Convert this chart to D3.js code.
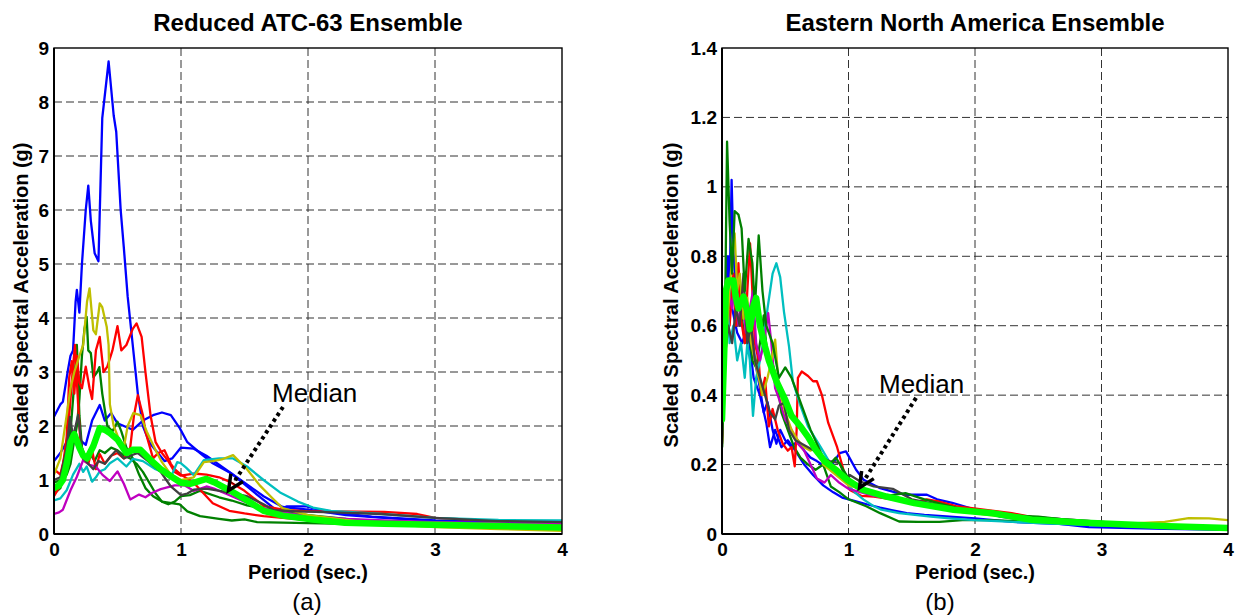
<!DOCTYPE html>
<html><head><meta charset="utf-8">
<script src="https://cdn.jsdelivr.net/npm/d3@7"></script>
<style>
body{margin:0;background:#fff}
svg{display:block}
text{font-family:"Liberation Sans",Arial,Helvetica,sans-serif}
</style>
</head><body>
<svg id="chart" width="1235" height="616"></svg>
<script>
// ---------------- DATA: Reduced ATC-63 ensemble  [period (s), Sa (g)] ----------------
const atcBlueA = [[0,2.17],[0.05,2.4],[0.07,2.45],[0.11,3.04],[0.13,3.3],[0.15,3.4],[0.17,4.3],[0.18,4.52],[0.2,4.1],[0.22,5.0],[0.25,6.0],[0.27,6.45],[0.29,5.8],[0.32,5.2],[0.35,5.05],[0.38,7.7],[0.43,8.75],[0.47,7.75],[0.49,7.45],[0.525,6.0],[0.55,5.3],[0.58,4.4],[0.62,3.5],[0.66,2.6],[0.7,2.0],[0.75,1.7],[0.8,1.55],[0.87,1.35],[0.93,1.4],[1.0,1.6],[1.1,1.58],[1.2,1.45],[1.35,1.2],[1.5,0.95],[1.65,0.7],[1.8,0.5],[2.0,0.45],[2.3,0.35],[2.6,0.3],[3.0,0.24],[3.5,0.21],[4.0,0.19]];
const atcBlueB = [[0,1.35],[0.05,1.5],[0.1,1.7],[0.126,1.93],[0.15,1.85],[0.2,1.75],[0.25,1.65],[0.3,2.1],[0.36,2.39],[0.4,2.1],[0.45,2.24],[0.5,2.05],[0.55,2.0],[0.62,1.93],[0.7,2.1],[0.78,2.2],[0.85,2.25],[0.92,2.2],[0.99,1.96],[1.05,1.7],[1.15,1.5],[1.25,1.31],[1.39,1.13],[1.52,0.88],[1.65,0.63],[1.75,0.44],[1.83,0.51],[1.99,0.51],[2.1,0.44],[2.2,0.4],[2.5,0.32],[3.0,0.25],[3.5,0.22],[4.0,0.2]];
const atcGreenA = [[0,0.95],[0.05,1.0],[0.1,1.1],[0.13,1.3],[0.15,1.6],[0.18,2.0],[0.2,2.5],[0.22,3.3],[0.24,3.8],[0.257,4.02],[0.27,3.4],[0.29,3.35],[0.31,2.9],[0.34,3.0],[0.357,3.09],[0.38,2.6],[0.42,2.0],[0.46,1.9],[0.5,2.08],[0.53,1.9],[0.57,1.6],[0.62,1.4],[0.67,1.1],[0.72,0.85],[0.78,0.7],[0.85,0.6],[0.99,0.55],[1.05,0.42],[1.15,0.33],[1.3,0.28],[1.4,0.25],[1.5,0.27],[1.6,0.22],[1.8,0.21],[2.0,0.2],[2.5,0.18],[3.0,0.16],[3.5,0.13],[4.0,0.12]];
const atcGreenB = [[0,0.75],[0.05,0.85],[0.08,1.1],[0.12,1.6],[0.15,2.5],[0.18,3.5],[0.2,2.2],[0.22,1.6],[0.25,1.4],[0.28,1.5],[0.32,1.35],[0.36,1.55],[0.4,1.5],[0.45,1.6],[0.5,1.55],[0.55,1.45],[0.6,1.4],[0.65,1.3],[0.7,1.15],[0.75,0.95],[0.8,0.75],[0.85,0.6],[0.9,0.55],[0.95,0.6],[1.0,0.7],[1.07,0.72],[1.15,0.8],[1.3,0.68],[1.4,0.62],[1.52,0.53],[1.65,0.47],[1.8,0.42],[2.0,0.35],[2.3,0.28],[2.6,0.22],[3.0,0.18],[3.5,0.15],[4.0,0.13]];
const atcRedA = [[0,0.7],[0.05,0.9],[0.1,1.8],[0.12,2.9],[0.14,3.2],[0.16,2.6],[0.18,3.3],[0.2,2.8],[0.22,2.7],[0.25,3.1],[0.28,2.7],[0.3,2.5],[0.33,3.4],[0.36,3.65],[0.39,3.0],[0.42,3.1],[0.46,3.4],[0.5,3.85],[0.53,3.4],[0.57,3.5],[0.62,3.8],[0.65,3.9],[0.69,3.65],[0.72,3.0],[0.76,2.2],[0.8,1.7],[0.85,1.5],[0.9,1.35],[0.95,1.15],[1.0,1.08],[1.1,1.12],[1.2,1.1],[1.3,1.05],[1.39,0.96],[1.5,0.8],[1.65,0.52],[1.8,0.45],[2.0,0.42],[2.2,0.42],[2.6,0.41],[2.86,0.37],[3.0,0.3],[3.3,0.26],[4.0,0.22]];
const atcRedB = [[0,1.2],[0.05,1.1],[0.1,1.6],[0.13,2.5],[0.15,3.1],[0.165,3.5],[0.19,2.4],[0.21,1.6],[0.23,1.37],[0.27,1.3],[0.3,1.55],[0.33,1.2],[0.36,1.48],[0.4,1.3],[0.45,1.45],[0.5,1.5],[0.55,1.4],[0.6,1.6],[0.63,2.2],[0.66,2.57],[0.7,2.2],[0.72,1.9],[0.78,1.4],[0.82,1.5],[0.87,1.55],[0.92,1.3],[0.95,1.2],[1.0,1.1],[1.1,0.95],[1.25,0.57],[1.38,0.43],[1.5,0.38],[1.65,0.33],[1.8,0.3],[2.0,0.26],[2.3,0.22],[2.6,0.19],[3.0,0.16],[3.5,0.13],[4.0,0.11]];
const atcCyan = [[0,0.62],[0.05,0.66],[0.1,0.81],[0.15,1.1],[0.2,1.3],[0.23,1.15],[0.257,1.25],[0.3,0.97],[0.33,1.05],[0.36,1.16],[0.4,1.2],[0.44,1.31],[0.5,1.4],[0.57,1.25],[0.62,1.39],[0.7,1.35],[0.8,1.2],[0.85,1.15],[0.92,1.05],[0.97,1.33],[1.0,1.31],[1.04,1.23],[1.1,1.09],[1.18,1.37],[1.3,1.4],[1.41,1.4],[1.52,1.25],[1.65,1.0],[1.78,0.77],[1.92,0.6],[2.04,0.49],[2.18,0.43],[2.58,0.37],[3.0,0.3],[3.5,0.26],[4.0,0.25]];
const atcMagenta = [[0,0.37],[0.04,0.4],[0.07,0.45],[0.13,0.81],[0.18,1.06],[0.23,1.37],[0.28,1.28],[0.33,1.25],[0.38,1.1],[0.44,0.98],[0.5,1.16],[0.55,0.93],[0.6,0.64],[0.67,0.73],[0.72,0.68],[0.77,0.76],[0.84,0.83],[0.95,0.9],[1.03,0.9],[1.1,0.8],[1.2,0.88],[1.26,0.84],[1.35,0.75],[1.5,0.6],[1.65,0.48],[1.8,0.4],[2.0,0.33],[2.3,0.28],[2.6,0.25],[3.0,0.22],[3.5,0.2],[4.0,0.19]];
const atcYellow = [[0,1.1],[0.05,1.4],[0.1,2.2],[0.13,2.7],[0.16,3.0],[0.2,3.3],[0.23,3.5],[0.26,4.3],[0.28,4.55],[0.31,3.77],[0.33,3.7],[0.36,4.27],[0.38,4.2],[0.415,3.84],[0.43,3.5],[0.44,2.4],[0.47,2.0],[0.52,1.7],[0.55,1.6],[0.58,2.0],[0.625,2.24],[0.68,2.2],[0.73,1.9],[0.8,1.55],[0.85,1.33],[0.92,1.1],[1.0,1.0],[1.1,1.05],[1.18,1.33],[1.25,1.35],[1.32,1.38],[1.41,1.46],[1.52,1.2],[1.62,0.9],[1.73,0.64],[1.8,0.48],[2.0,0.35],[2.5,0.2],[3.0,0.13],[3.5,0.09],[4.0,0.06]];
const atcGray = [[0,1.0],[0.05,1.05],[0.1,1.6],[0.126,2.17],[0.15,1.8],[0.19,2.2],[0.21,1.8],[0.23,1.4],[0.27,1.3],[0.31,1.2],[0.35,1.35],[0.4,1.3],[0.45,1.45],[0.49,1.55],[0.55,1.4],[0.6,1.45],[0.66,1.5],[0.74,1.35],[0.84,1.15],[0.92,0.88],[1.0,0.72],[1.05,0.75],[1.1,0.82],[1.2,0.84],[1.35,0.78],[1.52,0.7],[1.65,0.55],[1.73,0.44],[1.92,0.42],[2.2,0.4],[2.58,0.37],[3.0,0.3],[3.5,0.24],[4.0,0.22]];
const atcMedian = [[0,0.85],[0.04,0.9],[0.07,1.0],[0.1,1.3],[0.13,1.7],[0.16,1.85],[0.2,1.6],[0.23,1.45],[0.26,1.4],[0.31,1.63],[0.36,1.96],[0.4,1.93],[0.44,1.87],[0.5,1.75],[0.57,1.5],[0.62,1.56],[0.68,1.56],[0.76,1.37],[0.84,1.2],[0.92,1.07],[1.0,0.95],[1.07,0.93],[1.2,1.02],[1.26,0.96],[1.39,0.8],[1.52,0.62],[1.65,0.43],[1.8,0.34],[2.04,0.27],[2.29,0.21],[2.6,0.19],[3.0,0.17],[3.5,0.15],[4.0,0.12]];

// ---------------- DATA: Eastern North America ensemble ----------------
const enaBlueA = [[0,0.3],[0.02,0.55],[0.04,0.8],[0.06,0.7],[0.076,1.02],[0.09,0.82],[0.11,0.7],[0.13,0.75],[0.15,0.6],[0.18,0.65],[0.2,0.55],[0.23,0.6],[0.26,0.5],[0.3,0.42],[0.33,0.35],[0.36,0.38],[0.4,0.3],[0.43,0.26],[0.46,0.3],[0.5,0.27],[0.55,0.25],[0.6,0.27],[0.65,0.24],[0.7,0.22],[0.75,0.21],[0.81,0.195],[0.87,0.2],[0.93,0.233],[0.98,0.238],[1.06,0.185],[1.12,0.156],[1.25,0.132],[1.37,0.12],[1.46,0.113],[1.62,0.113],[1.7,0.1],[1.82,0.09],[2.0,0.07],[2.2,0.05],[2.4,0.04],[2.9,0.02],[3.5,0.015],[4.0,0.012]];
const enaBlueB = [[0,0.32],[0.03,0.6],[0.05,0.8],[0.08,0.65],[0.12,0.58],[0.16,0.55],[0.2,0.6],[0.25,0.45],[0.3,0.4],[0.35,0.32],[0.38,0.25],[0.42,0.3],[0.47,0.25],[0.52,0.27],[0.58,0.24],[0.65,0.2],[0.72,0.17],[0.8,0.14],[0.88,0.12],[0.95,0.105],[1.06,0.094],[1.15,0.085],[1.25,0.076],[1.35,0.068],[1.46,0.06],[1.6,0.055],[1.8,0.05],[2.0,0.045],[2.3,0.035],[2.6,0.03],[3.0,0.025],[3.5,0.02],[4.0,0.015]];
const enaGreenA = [[0,0.25],[0.02,0.5],[0.04,1.13],[0.06,0.9],[0.08,0.75],[0.1,0.93],[0.13,0.92],[0.155,0.88],[0.18,0.7],[0.21,0.85],[0.24,0.78],[0.26,0.65],[0.29,0.86],[0.32,0.7],[0.35,0.6],[0.4,0.55],[0.45,0.45],[0.5,0.48],[0.55,0.45],[0.6,0.4],[0.7,0.3],[0.8,0.22],[0.85,0.2],[0.9,0.22],[1.0,0.16],[1.1,0.13],[1.2,0.12],[1.3,0.11],[1.45,0.118],[1.6,0.1],[1.8,0.08],[2.0,0.06],[2.2,0.055],[2.5,0.05],[3.0,0.03],[3.5,0.02],[4.0,0.015]];
const enaGreenB = [[0,0.25],[0.02,0.45],[0.04,0.7],[0.06,0.65],[0.09,0.7],[0.12,0.6],[0.15,0.65],[0.18,0.55],[0.21,0.6],[0.24,0.5],[0.27,0.48],[0.3,0.55],[0.33,0.63],[0.36,0.5],[0.4,0.49],[0.43,0.45],[0.47,0.35],[0.52,0.3],[0.57,0.25],[0.62,0.22],[0.68,0.2],[0.74,0.185],[0.8,0.2],[0.86,0.137],[0.93,0.12],[1.0,0.1],[1.14,0.08],[1.25,0.06],[1.4,0.036],[1.55,0.035],[1.72,0.035],[1.9,0.04],[2.1,0.04],[2.5,0.035],[3.0,0.025],[3.5,0.02],[4.0,0.015]];
const enaRed = [[0,0.26],[0.02,0.45],[0.04,0.7],[0.06,0.6],[0.09,0.75],[0.11,0.6],[0.13,0.78],[0.15,0.62],[0.18,0.55],[0.2,0.7],[0.222,0.837],[0.24,0.7],[0.26,0.55],[0.29,0.5],[0.31,0.4],[0.34,0.45],[0.37,0.31],[0.4,0.36],[0.44,0.3],[0.48,0.26],[0.52,0.24],[0.55,0.25],[0.575,0.195],[0.59,0.3],[0.6,0.45],[0.63,0.468],[0.68,0.455],[0.72,0.44],[0.75,0.44],[0.79,0.4],[0.84,0.32],[0.91,0.25],[0.96,0.185],[1.01,0.127],[1.1,0.11],[1.2,0.108],[1.35,0.1],[1.5,0.09],[1.62,0.1],[1.7,0.095],[1.85,0.08],[2.07,0.07],[2.29,0.06],[2.5,0.045],[3.0,0.03],[3.5,0.02],[4.0,0.015]];
const enaCyan = [[0,0.3],[0.015,0.65],[0.04,0.7],[0.06,0.55],[0.09,0.6],[0.12,0.5],[0.15,0.55],[0.18,0.45],[0.2,0.55],[0.22,0.5],[0.245,0.34],[0.27,0.45],[0.3,0.5],[0.33,0.56],[0.36,0.65],[0.4,0.75],[0.43,0.78],[0.46,0.74],[0.49,0.64],[0.53,0.54],[0.56,0.44],[0.62,0.37],[0.68,0.31],[0.73,0.28],[0.78,0.25],[0.87,0.195],[0.95,0.16],[1.05,0.12],[1.12,0.099],[1.2,0.08],[1.26,0.07],[1.4,0.06],[1.65,0.05],[1.8,0.045],[2.0,0.04],[2.3,0.035],[2.6,0.03],[3.0,0.025],[3.5,0.02],[4.0,0.015]];
const enaMagenta = [[0,0.28],[0.02,0.45],[0.05,0.7],[0.08,0.65],[0.1,0.72],[0.13,0.6],[0.16,0.68],[0.19,0.58],[0.22,0.65],[0.245,0.7],[0.27,0.55],[0.3,0.5],[0.33,0.55],[0.365,0.636],[0.39,0.55],[0.42,0.42],[0.46,0.38],[0.5,0.33],[0.55,0.3],[0.6,0.26],[0.65,0.24],[0.7,0.2],[0.75,0.16],[0.81,0.148],[0.86,0.17],[0.92,0.15],[1.0,0.13],[1.1,0.12],[1.2,0.11],[1.35,0.1],[1.5,0.09],[1.7,0.08],[1.9,0.065],[2.1,0.06],[2.4,0.05],[2.8,0.04],[3.2,0.03],[3.6,0.025],[4.0,0.02]];
const enaYellow = [[0,0.3],[0.02,0.5],[0.05,0.65],[0.08,0.8],[0.1,0.866],[0.12,0.7],[0.14,0.75],[0.17,0.62],[0.2,0.68],[0.23,0.55],[0.26,0.5],[0.29,0.45],[0.32,0.4],[0.36,0.45],[0.39,0.5],[0.42,0.56],[0.45,0.42],[0.5,0.35],[0.55,0.3],[0.6,0.27],[0.65,0.25],[0.7,0.24],[0.75,0.26],[0.8,0.2],[0.9,0.17],[1.0,0.14],[1.1,0.13],[1.2,0.12],[1.35,0.105],[1.5,0.095],[1.7,0.08],[1.9,0.065],[2.1,0.055],[2.4,0.045],[2.8,0.035],[3.2,0.03],[3.5,0.035],[3.69,0.046],[3.85,0.045],[4.0,0.04]];
const enaGray = [[0,0.3],[0.02,0.5],[0.05,0.6],[0.08,0.55],[0.11,0.65],[0.14,0.6],[0.17,0.75],[0.2,0.55],[0.23,0.6],[0.26,0.5],[0.3,0.45],[0.34,0.4],[0.38,0.35],[0.42,0.33],[0.45,0.37],[0.49,0.377],[0.53,0.3],[0.58,0.27],[0.63,0.26],[0.68,0.25],[0.73,0.24],[0.78,0.22],[0.85,0.21],[0.93,0.204],[0.99,0.15],[1.01,0.17],[1.1,0.15],[1.2,0.137],[1.35,0.13],[1.5,0.1],[1.7,0.085],[1.9,0.07],[2.1,0.06],[2.4,0.05],[2.8,0.04],[3.2,0.03],[3.6,0.022],[4.0,0.018]];
const enaMedian = [[0,0.33],[0.02,0.55],[0.03,0.7],[0.05,0.73],[0.09,0.73],[0.11,0.68],[0.13,0.65],[0.17,0.684],[0.2,0.64],[0.22,0.59],[0.25,0.66],[0.27,0.68],[0.3,0.6],[0.34,0.54],[0.37,0.5],[0.43,0.44],[0.5,0.386],[0.55,0.34],[0.62,0.31],[0.68,0.28],[0.74,0.243],[0.81,0.21],[0.9,0.185],[0.99,0.156],[1.11,0.128],[1.3,0.108],[1.52,0.089],[1.83,0.07],[2.14,0.06],[2.45,0.041],[2.92,0.032],[3.53,0.022],[4.0,0.017]];

// ---------------- TICKS / LABELS ----------------
const xTicks = [0, 1, 2, 3, 4];
const atcYTicks = [0, 1, 2, 3, 4, 5, 6, 7, 8, 9];
const enaYTicks = [0, 0.2, 0.4, 0.6, 0.8, 1, 1.2, 1.4];
const titles = ["Reduced ATC-63 Ensemble", "Eastern North America Ensemble"];
const xLabel = "Period (sec.)";
const yLabel = "Scaled Spectral Acceleration (g)";
const subLabels = ["(a)", "(b)"];
const medianLabel = "Median";

// MATLAB default colour order
const C = {b:"#0000FF", g:"#008000", r:"#FF0000", c:"#00BFBF", m:"#BF00BF", y:"#BFBF00", k:"#404040", med:"#00FF00"};

const panels = [
  {
    id: "a", x0: 54, x1: 562, yMax: 9, yTicks: atcYTicks, title: titles[0], sub: subLabels[0], subX: 307, yLabX: 28,
    series: [[atcBlueB,C.b],[atcBlueA,C.b],[atcGreenA,C.g],[atcGreenB,C.g],[atcRedA,C.r],[atcRedB,C.r],[atcCyan,C.c],[atcMagenta,C.m],[atcYellow,C.y],[atcGray,C.k]],
    median: atcMedian,
    note: {text:[1.717, 2.444], tail:[1.803, 2.352], tip:[1.374, 0.806]}
  },
  {
    id: "b", x0: 722, x1: 1228, yMax: 1.4, yTicks: enaYTicks, title: titles[1], sub: subLabels[1], subX: 940, yLabX: 678,
    series: [[enaBlueB,C.b],[enaBlueA,C.b],[enaGreenB,C.g],[enaRed,C.r],[enaCyan,C.c],[enaMagenta,C.m],[enaYellow,C.y],[enaGray,C.k],[enaGreenA,C.g]],
    median: enaMedian,
    note: {text:[1.241, 0.4065], tail:[1.534, 0.392], tip:[1.087, 0.133]}
  }
];

(function draw() {
  const svg = d3.select("#chart");
  const plotTop = 48, plotBottom = 534;

  panels.forEach(p => {
    const x = d3.scaleLinear().domain([0, 4]).range([p.x0, p.x1]);
    const y = d3.scaleLinear().domain([0, p.yMax]).range([plotBottom, plotTop]);
    const g = svg.append("g");

    g.append("clipPath").attr("id", "clip-" + p.id)
      .append("rect").attr("x", p.x0).attr("y", plotTop).attr("width", p.x1 - p.x0).attr("height", plotBottom - plotTop);

    // grid
    const grid = g.append("g").attr("stroke", "#333").attr("stroke-width", 1).attr("stroke-dasharray", "8,4");
    grid.selectAll("line.h").data(p.yTicks.filter(t => t > 0 && t < p.yMax)).join("line")
      .attr("class", "h")
      .attr("x1", p.x0).attr("x2", p.x1).attr("y1", d => y(d)).attr("y2", d => y(d));
    grid.selectAll("line.v").data(xTicks.filter(t => t > 0 && t < 4)).join("line")
      .attr("class", "v")
      .attr("y1", plotTop).attr("y2", plotBottom).attr("x1", d => x(d)).attr("x2", d => x(d));

    // series
    const line = d3.line().x(d => x(d[0])).y(d => y(d[1]));
    const lines = g.append("g").attr("clip-path", "url(#clip-" + p.id + ")").attr("fill", "none")
      .attr("stroke-linejoin", "round").attr("stroke-linecap", "round");
    p.series.forEach(([data, col]) => {
      lines.append("path").attr("d", line(data)).attr("stroke", col).attr("stroke-width", 2.3);
    });
    lines.append("path").attr("d", line(p.median)).attr("stroke", C.med).attr("stroke-width", 6.5);

    // box
    g.append("rect").attr("x", p.x0).attr("y", plotTop).attr("width", p.x1 - p.x0).attr("height", plotBottom - plotTop)
      .attr("fill", "none").attr("stroke", "#000").attr("stroke-width", 1.4);
    g.append("line").attr("x1", p.x0).attr("x2", p.x0).attr("y1", plotTop).attr("y2", plotBottom).attr("stroke", "#000").attr("stroke-width", 2);
    g.append("line").attr("x1", p.x0).attr("x2", p.x1).attr("y1", plotBottom).attr("y2", plotBottom).attr("stroke", "#000").attr("stroke-width", 2);

    // axes (labels only)
    const fmt = d => String(+d.toFixed(1));
    const ax = g.append("g").attr("transform", `translate(0,${plotBottom})`)
      .call(d3.axisBottom(x).tickValues(xTicks).tickSize(0).tickPadding(9).tickFormat(fmt));
    const ay = g.append("g").attr("transform", `translate(${p.x0},0)`)
      .call(d3.axisLeft(y).tickValues(p.yTicks).tickSize(0).tickPadding(5).tickFormat(fmt));
    [ax, ay].forEach(a => {
      a.select(".domain").remove();
      a.selectAll("text").attr("font-family", '"Liberation Sans",Arial,sans-serif')
        .attr("font-size", 19).attr("font-weight", "bold").attr("fill", "#000");
    });

    const cx = (p.x0 + p.x1) / 2;
    g.append("text").attr("x", cx).attr("y", 31).attr("text-anchor", "middle")
      .attr("font-size", 24).attr("font-weight", "bold").text(p.title);
    g.append("text").attr("x", cx).attr("y", 579).attr("text-anchor", "middle")
      .attr("font-size", 20).attr("font-weight", "bold").text(xLabel);
    g.append("text").attr("transform", `translate(${p.yLabX},${(plotTop + plotBottom) / 2 + 4}) rotate(-90)`)
      .attr("text-anchor", "middle").attr("font-size", 20).attr("font-weight", "bold").text(yLabel);
    g.append("text").attr("x", p.subX).attr("y", 610).attr("text-anchor", "middle")
      .attr("font-family", '"Liberation Serif","Times New Roman",serif').attr("font-size", 24).text(p.sub);

    // Median annotation
    const n = p.note;
    g.append("text").attr("x", x(n.text[0])).attr("y", y(n.text[1]))
      .attr("font-size", 26).text(medianLabel);
    const tx = x(n.tail[0]), ty = y(n.tail[1]), hx = x(n.tip[0]), hy = y(n.tip[1]);
    const ang = Math.atan2(ty - hy, tx - hx);
    const sx = hx + Math.cos(ang) * 8, sy = hy + Math.sin(ang) * 8;
    g.append("line").attr("x1", tx).attr("y1", ty).attr("x2", sx).attr("y2", sy)
      .attr("stroke", "#000").attr("stroke-width", 4).attr("stroke-dasharray", "3.5,3.5");
    const w = 17, spread = 25 * Math.PI / 180;
    const w1 = [hx + Math.cos(ang - spread) * w, hy + Math.sin(ang - spread) * w];
    const w2 = [hx + Math.cos(ang + spread) * w, hy + Math.sin(ang + spread) * w];
    g.append("path").attr("d", `M${w1[0]},${w1[1]}L${hx},${hy}L${w2[0]},${w2[1]}`)
      .attr("fill", "none").attr("stroke", "#000").attr("stroke-width", 3.5).attr("stroke-linejoin", "miter");
  });
})();
</script>
</body></html>
